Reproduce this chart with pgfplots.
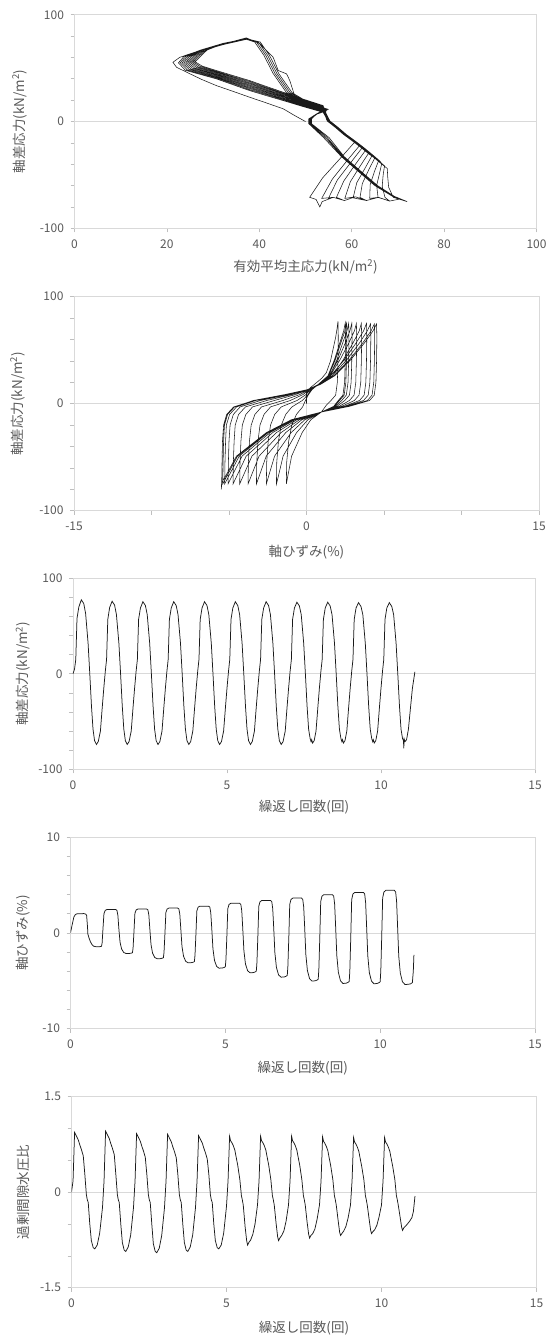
\documentclass[border=0pt]{standalone}
\usepackage{fontspec}
\setmainfont{Noto Sans CJK JP}
\usepackage{pgfplots}
\pgfplotsset{compat=1.18}
\definecolor{txt}{HTML}{595959}
\definecolor{bord}{HTML}{D9D9D9}
\definecolor{tickc}{HTML}{BFBFBF}
\definecolor{dat}{HTML}{1A1A1A}
\pgfplotsset{
  base/.style={
    scale only axis,
    anchor=south west,
    axis line style={draw=bord, line width=0.8pt},
    tick align=outside,
    xtick pos=left, ytick pos=left,
    major tick length=4pt, minor tick length=4pt,
    major tick style={draw=tickc, line width=0.7pt},
    minor tick style={draw=tickc, line width=0.7pt},
    tick label style={font=\fontsize{12}{14}\selectfont, text=txt},
    xticklabel style={yshift=-4pt},
    yticklabel style={xshift=-3pt},
    label style={font=\fontsize{13.5}{16}\selectfont, text=txt},
    ymajorgrids, major grid style={draw=bord, line width=0.8pt},
    cycle list={{dat, line width=0.7pt, mark=none}},
  },
  qaxis/.style={ymin=-100, ymax=100, ytick={-100,0,100}, yticklabels={-100,0,100},
    minor ytick={-80,-60,-40,-20,20,40,60,80}},
  naxis/.style={xmin=0, xmax=15, xtick={0,5,10,15}, xticklabels={0,5,10,15},
    xlabel={繰返し回数(回)}},
}
\begin{document}
\begin{tikzpicture}
\path[use as bounding box] (0,0) rectangle (558pt,-1340pt);

% ---------- Panel 1 : q vs p'
\begin{axis}[base, qaxis, at={(74.5pt,-228.3pt)}, width=462pt, height=213.5pt,
  xmin=0, xmax=100, xtick={0,20,40,60,80,100}, xticklabels={0,20,40,60,80,100},
  xlabel={有効平均主応力(kN/m\textsuperscript{2})},
  ylabel={軸差応力(kN/m\textsuperscript{2})},
  xlabel style={at={(axis description cs:0.5,-0.181)}, anchor=center},
  ylabel style={at={(axis description cs:-0.119,0.5)}, anchor=center}]
\addplot[dat, line width=0.55pt, mark=none] coordinates {
(50,0) (47.5,6) (45.2,11.9) (41.5,17.5) (37.9,22.8) (34.3,28.3) (30.7,33.7) (27.5,39.5) (25,44.7) (22.1,50.8) (21.3,55.5) (22.8,60.2) (27.1,66.5) (32.2,72.7) (37.2,78.4) (40.1,73) (43,60.2) (44.1,47.8) (45.9,44.7) (46.6,38.4) (48.1,18) (51.5,12.5) (54.5,10) (52.5,7) (51,2) (51,-3) (53.5,-12) (55.5,-20) (58.1,-33) (61.8,-47) (65.3,-60) (69,-70) (72,-75) (70.5,-73) (69,-71)
(68.0,-61.5) (67.8,-52.1) (67.7,-44) (65.7,-37) (63.8,-30) (62.1,-24) (60.6,-19) (58.4,-12) (56.6,-5.3) (54.9,0.5) (53.8,8.7) (49.5,14) (45.2,19.6) (41.5,24.3) (37.9,29) (34.3,34.5) (30.7,40) (24,48) (22.5,55) (23.7,61) (27.3,67) (32.2,72.5) (37.2,77.2) (39.4,74.5) (41.4,62) (43.4,45) (46.3,27) (50.6,16) (54.5,11.5) (52.5,7.5) (50.9,2.5) (50.9,-2) (54.3,-15) (58.0,-33) (61.7,-47) (65.2,-60) (68.9,-70) (72,-75) (70.5,-72.5) (68.2,-74.5) (67.2,-71)
(66.6,-60.7) (66.8,-50.4) (67.1,-41.5) (65.9,-37) (64.0,-30) (62.3,-24) (60.8,-19) (58.6,-12) (56.8,-5.3) (55.1,0.5) (53.8,9.4) (49.5,14.8) (45.2,20.5) (41.5,25.3) (37.9,30) (34.3,35.5) (30.7,40.9) (24.4,48.4) (22.9,55.1) (24.1,61) (27.3,67) (32.2,72.9) (37.2,77.4) (39.8,74.5) (41.8,62) (43.8,45) (46.7,27) (51.0,16) (54.7,11.5) (52.5,7.5) (51.1,2.5) (51.1,-2) (54.7,-15) (58.2,-33) (61.9,-47) (65.4,-60) (69.1,-70) (72,-75) (70.5,-72.5) (68.2,-74.5) (65.7,-71)
(65.4,-59.9) (66.0,-48.9) (66.5,-39.4) (66.1,-37) (64.2,-30) (62.5,-24) (61.0,-19) (58.8,-12) (57.0,-5.3) (55.3,0.5) (53.8,10.1) (49.5,15.6) (45.2,21.3) (41.5,26.2) (37.9,31.1) (34.3,36.4) (30.7,41.7) (24.8,48.9) (23.3,55.2) (24.5,61) (27.3,67) (32.2,73.3) (37.2,77.6) (40.2,74.5) (42.2,62) (44.2,45) (47.1,27) (51.4,16) (54.9,11.5) (52.5,7.5) (51.3,2.5) (51.3,-2) (55.1,-15) (58.4,-33) (62.1,-47) (65.6,-60) (69.2,-70) (72,-75) (70.5,-72.5) (68.2,-74.5) (65.8,-71) (63.9,-72)
(64.0,-59.1) (64.9,-47.1) (65.8,-36.9) (63.6,-30) (61.9,-24) (60.4,-19) (58.2,-12) (56.4,-5.3) (54.7,0.5) (53.8,10.8) (49.5,16.3) (45.2,22.2) (41.5,27.2) (37.9,32.1) (34.3,37.4) (30.7,42.6) (25.2,49.3) (23.7,55.3) (24.9,61) (27.3,67) (32.2,72.1) (37.2,77.0) (39.0,74.5) (41.0,62) (43.0,45) (45.9,27) (50.2,16) (54.3,11.5) (52.5,7.5) (50.7,2.5) (50.7,-2) (53.9,-15) (57.8,-33) (61.5,-47) (65.0,-60) (68.8,-70) (72,-75) (70.5,-72.5) (68.2,-74.5) (65.8,-71) (63.2,-74) (61.8,-71)
(62.3,-58.1) (63.7,-45.1) (65.0,-34) (63.8,-30) (62.1,-24) (60.6,-19) (58.4,-12) (56.6,-5.3) (54.9,0.5) (53.8,11.5) (49.5,17.1) (45.2,23.1) (41.5,28.1) (37.9,33.2) (34.3,38.3) (30.7,43.5) (25.6,49.8) (24.1,55.4) (25.3,61) (27.3,67) (32.2,72.5) (37.2,77.2) (39.4,74.5) (41.4,62) (43.4,45) (46.3,27) (50.6,16) (54.5,11.5) (52.5,7.5) (50.9,2.5) (50.9,-2) (54.3,-15) (58.0,-33) (61.7,-47) (65.2,-60) (68.9,-70) (72,-75) (70.5,-72.5) (68.2,-74.5) (65.8,-71) (63.2,-74) (60.3,-71.5)
(61.1,-57.3) (62.9,-43.6) (64.4,-31.9) (62.3,-24) (60.8,-19) (58.6,-12) (56.8,-5.3) (55.1,0.5) (53.8,12.2) (49.5,17.9) (45.2,23.9) (41.5,29.1) (37.9,34.2) (34.3,39.3) (30.7,44.3) (26.0,50.2) (24.5,55.6) (25.7,61) (27.5,67) (32.2,72.9) (37.2,77.4) (39.8,74.5) (41.8,62) (43.8,45) (46.7,27) (51.0,16) (54.7,11.5) (52.5,7.5) (51.1,2.5) (51.1,-2) (54.7,-15) (58.2,-33) (61.9,-47) (65.4,-60) (69.1,-70) (72,-75) (70.5,-72.5) (68.2,-74.5) (65.8,-71) (63.2,-74) (60.8,-70.5) (58.5,-72)
(59.7,-56.4) (61.8,-41.9) (63.7,-29.4) (62.5,-24) (61.0,-19) (58.8,-12) (57.0,-5.3) (55.3,0.5) (53.8,12.9) (49.5,18.7) (45.2,24.8) (41.5,30.0) (37.9,35.3) (34.3,40.2) (30.7,45.2) (26.4,50.7) (24.9,55.7) (26.1,61) (27.8,67) (32.2,73.3) (37.2,77.6) (40.2,74.5) (42.2,62) (44.2,45) (47.1,27) (51.4,16) (54.9,11.5) (52.5,7.5) (51.3,2.5) (51.3,-2) (55.1,-15) (58.4,-33) (62.1,-47) (65.6,-60) (69.2,-70) (72,-75) (70.5,-72.5) (68.2,-74.5) (65.8,-71) (63.2,-74) (60.8,-70.5) (58.4,-74) (56.7,-71)
(58.3,-55.6) (60.8,-40.1) (63.0,-26.9) (61.9,-24) (60.4,-19) (58.2,-12) (56.4,-5.3) (54.7,0.5) (53.8,13.6) (49.5,19.4) (45.2,25.7) (41.5,31.0) (37.9,36.3) (34.3,41.2) (30.7,46.1) (26.8,51.1) (25.3,55.8) (26.5,61) (28.1,67) (32.2,72.1) (37.2,77.0) (39.0,74.5) (41.0,62) (43.0,45) (45.9,27) (50.2,16) (54.3,11.5) (52.5,7.5) (50.7,2.5) (50.7,-2) (53.9,-15) (57.8,-33) (61.5,-47) (65.0,-60) (68.8,-70) (72,-75) (70.5,-72.5) (68.2,-74.5) (65.8,-71) (63.2,-74) (60.8,-70.5) (58.4,-74) (56,-71) (54.9,-72.5)
(56.9,-54.7) (59.8,-38.4) (62.3,-24.4) (60.6,-19) (58.4,-12) (56.6,-5.3) (54.9,0.5) (53.8,14.3) (49.5,20.2) (45.2,26.5) (41.5,31.9) (37.9,37.4) (34.3,42.1) (30.7,46.9) (27.2,51.6) (25.7,55.9) (26.9,61) (28.4,67) (32.2,72.5) (37.2,77.2) (39.4,74.5) (41.4,62) (43.4,45) (46.3,27) (50.6,16) (54.5,11.5) (52.5,7.5) (50.9,2.5) (50.9,-2) (54.3,-15) (58.0,-33) (61.7,-47) (65.2,-60) (68.9,-70) (72,-75) (70.5,-72.5) (68.2,-74.5) (65.8,-71) (63.2,-74) (60.8,-70.5) (58.4,-74) (56,-71) (53.5,-72)
(55.8,-54.0) (58.9,-37.1) (61.7,-22.5) (60.8,-19) (58.6,-12) (56.8,-5.3) (55.1,0.5) (53.8,15) (49.5,21) (45.2,27.4) (41.5,32.9) (37.9,38.4) (34.3,43.1) (30.7,47.8) (27.6,52) (26.1,56) (27.3,61) (28.7,67) (32.2,72.9) (37.2,77.4) (39.8,74.5) (41.8,62) (43.8,45) (46.7,27) (51.0,16) (54.7,11.5) (52.5,7.5) (51.1,2.5) (51.1,-2) (54.7,-15) (58.2,-33) (61.9,-47) (65.4,-60) (69.1,-70) (72,-75) (70.5,-72.5) (68.2,-74.5) (65.8,-71) (63.2,-74) (60.8,-70.5) (58.4,-74) (56,-71) (53.6,-75) (53.1,-80) (52.3,-73) (50.9,-71)
(53.7,-52.8) (57.5,-34.6) (60.7,-19) (58.5,-12) (56.7,-5.3) (55.2,0) (54.5,2)
};
\end{axis}

% ---------- Panel 2 : q vs axial strain
\begin{axis}[base, qaxis, at={(74pt,-510.7pt)}, width=465pt, height=214pt,
  xmin=-15, xmax=15, xtick={-15,0,15}, xticklabels={-15,0,15},
  minor xtick={-10,-5,5,10}, xmajorgrids,
  xlabel={軸ひずみ(\%)},
  ylabel={軸差応力(kN/m\textsuperscript{2})},
  xlabel style={at={(axis description cs:0.5,-0.193)}, anchor=center},
  ylabel style={at={(axis description cs:-0.121,0.5)}, anchor=center}]
\addplot[dat, line width=0.55pt, mark=none] coordinates {
(0,0) (0,10) (0.25,15) (0.64,19.6) (1.0,24) (1.28,29) (1.55,40) (1.71,50.7) (1.88,62) (1.97,70) (2.03,77)
(2.05,62) (2.03,40) (1.99,20) (1.88,8) (1.58,3) (1.3,-1) (0.96,-7.8) (0.28,-15) (-0.28,-27) (-0.96,-49) (-1.21,-68) (-1.30,-75)
(-1.28,-55) (-1.15,-35) (-0.95,-20) (-0.65,-10) (-0.25,-3) (-0.07,3) (0.13,8.5) (0.35,13) (0.75,18) (1.38,26) (1.8,41) (2.15,57) (2.4,68) (2.5,75.5)
(2.52,62) (2.5,40) (2.46,20) (2.35,8) (2.05,3) (1.75,-2.5) (0.96,-7.8) (0.09,-15) (-0.64,-27) (-1.51,-49) (-1.82,-68) (-1.94,-75)
(-1.92,-55) (-1.81,-35) (-1.63,-20) (-1.34,-10) (-0.94,-3) (-0.27,3) (0.09,8.5) (0.30,13) (0.77,18) (1.42,26) (1.86,41) (2.22,57) (2.48,68) (2.58,75)
(2.6,62) (2.58,40) (2.54,20) (2.43,8) (2.13,3) (1.79,-2.5) (0.96,-7.8) (-0.11,-15) (-0.99,-27) (-2.06,-49) (-2.45,-68) (-2.59,-75)
(-2.57,-55) (-2.47,-35) (-2.32,-20) (-2.05,-10) (-1.63,-3) (-0.61,3) (-0.04,8.5) (0.24,13) (0.82,18) (1.50,26) (1.96,41) (2.34,57) (2.61,68) (2.72,75)
(2.74,62) (2.72,40) (2.68,20) (2.57,8) (2.27,3) (1.86,-2.5) (0.96,-7.8) (-0.30,-15) (-1.34,-27) (-2.60,-49) (-3.06,-68) (-3.23,-75)
(-3.21,-55) (-3.13,-35) (-3.0,-20) (-2.74,-10) (-2.32,-3) (-1.05,3) (-0.23,8.5) (0.19,13) (0.79,18) (1.46,26) (2.04,41) (2.51,57) (2.80,68) (2.92,75)
(2.94,62) (2.92,40) (2.88,20) (2.77,8) (2.47,3) (1.96,-2.5) (0.96,-7.8) (-0.46,-15) (-1.64,-27) (-3.06,-49) (-3.58,-68) (-3.77,-75)
(-3.75,-55) (-3.68,-35) (-3.57,-20) (-3.33,-10) (-2.90,-3) (-1.52,3) (-0.44,8.5) (0.14,13) (0.81,18) (1.51,26) (2.16,41) (2.74,57) (3.09,68) (3.22,75)
(3.24,62) (3.22,40) (3.18,20) (3.07,8) (2.77,3) (2.11,-2.5) (0.96,-7.8) (-0.62,-15) (-1.94,-27) (-3.52,-49) (-4.10,-68) (-4.31,-75)
(-4.29,-55) (-4.23,-35) (-4.14,-20) (-3.91,-10) (-3.48,-3) (-2.07,3) (-0.72,8.5) (0.10,13) (0.89,18) (1.66,26) (2.37,41) (3.01,57) (3.40,68) (3.54,75)
(3.56,62) (3.54,40) (3.50,20) (3.39,8) (3.09,3) (2.27,-2.5) (0.96,-7.8) (-0.75,-15) (-2.18,-27) (-3.89,-49) (-4.51,-68) (-4.74,-75)
(-4.72,-55) (-4.67,-35) (-4.60,-20) (-4.38,-10) (-3.94,-3) (-2.56,3) (-0.96,8.5) (0.06,13) (0.77,18) (1.55,26) (2.44,41) (3.21,57) (3.68,68) (3.87,75)
(3.89,62) (3.87,40) (3.83,20) (3.72,8) (3.42,3) (2.44,-2.5) (0.96,-7.8) (-0.85,-15) (-2.35,-27) (-4.16,-49) (-4.82,-68) (-5.06,-75)
(-5.04,-55) (-5.0,-35) (-4.93,-20) (-4.72,-10) (-4.28,-3) (-2.97,3) (-1.17,8.5) (0.04,13) (0.83,18) (1.65,26) (2.60,41) (3.43,57) (3.92,68) (4.13,74.5)
(4.15,62) (4.13,40) (4.09,20) (3.98,8) (3.68,3) (2.57,-2.5) (0.96,-7.8) (-0.91,-15) (-2.47,-27) (-4.34,-49) (-5.03,-68) (-5.28,-75)
(-5.26,-55) (-5.22,-35) (-5.17,-20) (-4.96,-10) (-4.51,-3) (-3.27,3) (-1.33,8.5) (0.02,13) (0.88,18) (1.75,26) (2.76,41) (3.64,57) (4.16,68) (4.38,74.5)
(4.40,62) (4.38,40) (4.34,20) (4.23,8) (3.93,3) (2.69,-2.5) (0.96,-7.8) (-0.95,-15) (-2.54,-27) (-4.45,-49) (-5.15,-68) (-5.40,-75)
(-5.38,-55) (-5.35,-35) (-5.29,-20) (-5.09,-10) (-4.64,-3) (-3.43,3) (-1.41,8.5) (0.01,13) (0.90,18) (1.81,26) (2.85,41) (3.75,57) (4.29,68) (4.52,74.5)
(4.54,62) (4.52,40) (4.48,20) (4.37,8) (4.07,3) (2.76,-2.5) (0.96,-7.8) (-0.98,-15) (-2.59,-27) (-4.52,-49) (-5.23,-68) (-5.45,-73) (-5.5,-80)
(-5.47,-72) (-5.45,-55) (-5.42,-35) (-5.35,-20) (-5.15,-10) (-4.7,-3) (-3.5,2.5) (-2.5,5)
};
\end{axis}

% ---------- Panel 3 : q vs N
\begin{axis}[base, qaxis, naxis, at={(73pt,-769.3pt)}, width=462pt, height=191pt,
  ylabel={軸差応力(kN/m\textsuperscript{2})},
  xlabel style={at={(axis description cs:0.5,-0.197)}, anchor=center},
  ylabel style={at={(axis description cs:-0.108,0.5)}, anchor=center}]
\addplot[dat, line width=0.75pt, mark=none] coordinates {
(0,0) (0.05,5) (0.09,15) (0.13,58) (0.19,70) (0.27,77.5) (0.35,73.5) (0.41,63) (0.49,32) (0.545,0) (0.6,-34) (0.65,-58) (0.7,-70) (0.76,-74) (0.82,-71) (0.89,-60) (0.95,-35)
(1,-15) (1.05,3) (1.09,15) (1.13,57) (1.19,69.5) (1.27,76) (1.35,72) (1.41,62) (1.49,32) (1.545,0) (1.6,-34) (1.65,-58) (1.7,-70) (1.76,-74) (1.82,-71) (1.89,-60) (1.95,-35)
(2,-15) (2.05,3) (2.09,15) (2.13,57) (2.19,69) (2.27,75.5) (2.35,71.5) (2.41,62) (2.49,32) (2.545,0) (2.6,-34) (2.65,-58) (2.7,-70) (2.76,-74) (2.82,-71) (2.89,-60) (2.95,-35)
(3,-15) (3.05,3) (3.09,15) (3.13,57) (3.19,69) (3.27,75.5) (3.35,71.5) (3.41,62) (3.49,32) (3.545,0) (3.6,-34) (3.65,-58) (3.7,-70) (3.76,-74) (3.82,-71) (3.89,-60) (3.95,-35)
(4,-15) (4.05,3) (4.09,15) (4.13,57) (4.19,69) (4.27,75.5) (4.35,71.5) (4.41,62) (4.49,32) (4.545,0) (4.6,-34) (4.65,-58) (4.7,-70) (4.76,-74) (4.82,-71) (4.89,-60) (4.95,-35)
(5,-15) (5.05,3) (5.09,15) (5.13,57) (5.19,69) (5.27,75.5) (5.35,71.5) (5.41,62) (5.49,32) (5.545,0) (5.6,-34) (5.65,-58) (5.7,-70) (5.76,-74) (5.82,-71) (5.89,-60) (5.95,-35)
(6,-15) (6.05,3) (6.09,15) (6.13,57) (6.19,69) (6.27,75.5) (6.35,71.5) (6.41,62) (6.49,32) (6.545,0) (6.6,-34) (6.65,-58) (6.7,-70) (6.76,-74) (6.82,-71) (6.89,-60) (6.95,-35)
(7,-15) (7.05,3) (7.09,15) (7.13,57) (7.19,69) (7.27,75) (7.35,71) (7.41,62) (7.49,32) (7.545,0) (7.6,-34) (7.65,-58) (7.7,-68) (7.73,-71) (7.75,-69) (7.78,-72.5) (7.83,-70) (7.89,-60) (7.95,-35)
(8,-15) (8.05,3) (8.09,15) (8.13,57) (8.19,69) (8.27,75) (8.35,71) (8.41,62) (8.49,32) (8.545,0) (8.6,-34) (8.65,-58) (8.7,-68) (8.73,-71) (8.75,-69) (8.78,-72.5) (8.83,-70) (8.89,-60) (8.95,-35)
(9,-15) (9.05,3) (9.09,15) (9.13,57) (9.19,69) (9.27,74.5) (9.35,70.5) (9.41,62) (9.49,32) (9.545,0) (9.6,-34) (9.65,-58) (9.7,-68) (9.73,-71) (9.75,-69) (9.78,-72.5) (9.83,-70) (9.89,-60) (9.95,-35)
(10,-15) (10.05,3) (10.09,15) (10.13,57) (10.19,69) (10.27,74.5) (10.35,70.5) (10.41,62) (10.49,32) (10.545,0) (10.6,-34) (10.65,-58) (10.7,-68) (10.73,-70) (10.74,-78) (10.75,-68) (10.78,-71) (10.83,-69) (10.89,-58) (10.95,-38) (11.02,-15) (11.1,2)
};
\end{axis}

% ---------- Panel 4 : axial strain vs N
\begin{axis}[base, naxis, at={(70.5pt,-1028.5pt)}, width=464.5pt, height=191.2pt,
  ymin=-10, ymax=10, ytick={-10,0,10}, yticklabels={-10,0,10},
  minor ytick={-8,-6,-4,-2,2,4,6,8},
  ylabel={軸ひずみ(\%)},
  xlabel style={at={(axis description cs:0.5,-0.207)}, anchor=center},
  ylabel style={at={(axis description cs:-0.102,0.5)}, anchor=center}]
\addplot[dat, line width=0.75pt, mark=none] coordinates {
(0,0) (0.05,0.8) (0.11,1.67) (0.16,1.93) (0.215,2.0) (0.43,2.02) (0.49,1.97) (0.52,1.85) (0.55,0.6) (0.56,-0.1) (0.6,-0.55) (0.645,-0.94) (0.7,-1.25) (0.75,-1.39) (0.85,-1.46) (0.946,-1.44)
(1.0,-1.40) (1.02,-1.10) (1.05,0.50) (1.08,2.01) (1.12,2.35) (1.18,2.45) (1.46,2.45) (1.5,2.35) (1.53,1.84) (1.56,0.49) (1.6,-0.97) (1.65,-1.68) (1.72,-2.05) (1.8,-2.16) (1.9,-2.15) (1.96,-2.12)
(2.0,-2.07) (2.02,-1.62) (2.05,0.17) (2.08,2.05) (2.12,2.40) (2.18,2.5) (2.46,2.5) (2.5,2.40) (2.53,1.88) (2.56,0.5) (2.6,-1.22) (2.65,-2.11) (2.72,-2.57) (2.8,-2.7) (2.9,-2.69) (2.96,-2.65)
(3.0,-2.59) (3.02,-2.03) (3.05,-0.05) (3.08,2.13) (3.12,2.50) (3.18,2.6) (3.46,2.6) (3.5,2.50) (3.53,1.95) (3.56,0.52) (3.6,-1.41) (3.65,-2.44) (3.72,-2.97) (3.8,-3.13) (3.9,-3.11) (3.96,-3.07)
(4.0,-3.0) (4.02,-2.35) (4.05,-0.17) (4.08,2.30) (4.12,2.69) (4.18,2.8) (4.46,2.8) (4.5,2.69) (4.53,2.1) (4.56,0.56) (4.6,-1.66) (4.65,-2.88) (4.72,-3.51) (4.8,-3.69) (4.9,-3.67) (4.96,-3.62)
(5.0,-3.54) (5.02,-2.77) (5.05,-0.30) (5.08,2.54) (5.12,2.98) (5.18,3.1) (5.46,3.1) (5.5,2.98) (5.53,2.33) (5.56,0.62) (5.6,-1.88) (5.65,-3.25) (5.72,-3.96) (5.8,-4.17) (5.9,-4.15) (5.96,-4.09)
(6.0,-4.0) (6.02,-3.13) (6.05,-0.39) (6.08,2.79) (6.12,3.26) (6.18,3.4) (6.46,3.4) (6.5,3.26) (6.53,2.55) (6.56,0.68) (6.6,-2.08) (6.65,-3.61) (6.72,-4.40) (6.8,-4.63) (6.9,-4.61) (6.96,-4.54)
(7.0,-4.44) (7.02,-3.47) (7.05,-0.49) (7.08,2.99) (7.12,3.50) (7.18,3.65) (7.46,3.65) (7.5,3.50) (7.53,2.74) (7.56,0.73) (7.6,-2.27) (7.65,-3.93) (7.72,-4.79) (7.8,-5.04) (7.9,-5.01) (7.96,-4.94)
(8.0,-4.84) (8.02,-3.78) (8.05,-0.52) (8.08,3.28) (8.12,3.84) (8.18,4.0) (8.46,4.0) (8.5,3.84) (8.53,3.0) (8.56,0.8) (8.6,-2.38) (8.65,-4.13) (8.72,-5.03) (8.8,-5.29) (8.9,-5.26) (8.96,-5.18)
(9.0,-5.08) (9.02,-3.97) (9.05,-0.53) (9.08,3.48) (9.12,4.07) (9.18,4.24) (9.46,4.24) (9.5,4.07) (9.53,3.18) (9.56,0.85) (9.6,-2.39) (9.65,-4.15) (9.72,-5.05) (9.8,-5.32) (9.9,-5.29) (9.96,-5.21)
(10.0,-5.11) (10.02,-3.99) (10.05,-0.44) (10.08,3.65) (10.12,4.27) (10.18,4.45) (10.46,4.45) (10.5,4.27) (10.53,3.34) (10.56,0.89) (10.6,-2.43) (10.65,-4.2) (10.72,-5.12) (10.8,-5.39) (10.9,-5.38) (10.98,-5.33) (11.04,-5.2) (11.07,-4.0) (11.09,-2.3)
};
\end{axis}

% ---------- Panel 5 : excess pore pressure ratio vs N
\begin{axis}[base, naxis, at={(71.5pt,-1287.7pt)}, width=465pt, height=191pt,
  ymin=-1.5, ymax=1.5, ytick={-1.5,0,1.5}, yticklabels={-1.5,0,1.5},
  minor ytick={-1,-0.5,0.5,1},
  ylabel={過剰間隙水圧比},
  xlabel style={at={(axis description cs:0.5,-0.211)}, anchor=center},
  ylabel style={at={(axis description cs:-0.104,0.5)}, anchor=center}]
\addplot[dat, line width=0.75pt, mark=none] coordinates {
(0,0) (0.05,0.18) (0.1,0.94) (0.13,0.91) (0.17,0.87) (0.22,0.82) (0.27,0.74) (0.32,0.67) (0.38,0.57) (0.43,0.28) (0.48,-0.04) (0.51,-0.12) (0.54,-0.16) (0.59,-0.5) (0.64,-0.76) (0.7,-0.87) (0.75,-0.89) (0.83,-0.83) (0.91,-0.64)
(1,-0.24) (1.05,0.18) (1.1,0.96) (1.13,0.93) (1.17,0.89) (1.22,0.84) (1.27,0.76) (1.32,0.69) (1.38,0.59) (1.43,0.28) (1.48,-0.04) (1.51,-0.12) (1.54,-0.16) (1.59,-0.5) (1.64,-0.79) (1.7,-0.91) (1.75,-0.93) (1.83,-0.86) (1.91,-0.67)
(2,-0.24) (2.05,0.18) (2.1,0.92) (2.13,0.89) (2.17,0.85) (2.22,0.80) (2.27,0.72) (2.32,0.65) (2.38,0.55) (2.43,0.28) (2.48,-0.04) (2.51,-0.12) (2.54,-0.16) (2.59,-0.5) (2.64,-0.81) (2.7,-0.93) (2.75,-0.95) (2.83,-0.88) (2.91,-0.68)
(3,-0.24) (3.05,0.18) (3.1,0.91) (3.13,0.88) (3.17,0.84) (3.22,0.79) (3.27,0.71) (3.32,0.64) (3.38,0.54) (3.43,0.28) (3.48,-0.04) (3.51,-0.12) (3.54,-0.16) (3.59,-0.5) (3.64,-0.79) (3.7,-0.91) (3.75,-0.93) (3.83,-0.86) (3.91,-0.67)
(4,-0.24) (4.05,0.18) (4.1,0.89) (4.13,0.86) (4.17,0.82) (4.22,0.77) (4.27,0.69) (4.32,0.62) (4.38,0.52) (4.43,0.28) (4.48,-0.04) (4.51,-0.12) (4.54,-0.16) (4.59,-0.5) (4.64,-0.76) (4.7,-0.87) (4.75,-0.89) (4.83,-0.83) (4.91,-0.64)
(5,-0.22) (5.05,0.18) (5.1,0.88) (5.13,0.81) (5.17,0.78) (5.22,0.73) (5.27,0.66) (5.3,0.58) (5.36,0.43) (5.43,0.2) (5.48,-0.05) (5.51,-0.12) (5.54,-0.2) (5.6,-0.54) (5.65,-0.76) (5.68,-0.83) (5.72,-0.79) (5.78,-0.75) (5.85,-0.66) (5.92,-0.5)
(6,-0.2) (6.05,0.18) (6.1,0.88) (6.13,0.81) (6.17,0.78) (6.22,0.73) (6.27,0.66) (6.3,0.58) (6.36,0.43) (6.43,0.2) (6.48,-0.05) (6.51,-0.12) (6.54,-0.2) (6.6,-0.49) (6.65,-0.7) (6.68,-0.76) (6.72,-0.72) (6.78,-0.68) (6.85,-0.61) (6.92,-0.46)
(7,-0.2) (7.05,0.18) (7.1,0.88) (7.13,0.81) (7.17,0.78) (7.22,0.73) (7.27,0.66) (7.3,0.58) (7.36,0.43) (7.43,0.2) (7.48,-0.05) (7.51,-0.12) (7.54,-0.2) (7.6,-0.47) (7.65,-0.66) (7.68,-0.72) (7.72,-0.68) (7.78,-0.65) (7.85,-0.58) (7.92,-0.43)
(8,-0.2) (8.05,0.18) (8.1,0.87) (8.13,0.80) (8.17,0.77) (8.22,0.72) (8.27,0.65) (8.3,0.57) (8.36,0.42) (8.43,0.2) (8.48,-0.05) (8.51,-0.12) (8.54,-0.2) (8.6,-0.44) (8.65,-0.63) (8.68,-0.68) (8.72,-0.65) (8.78,-0.61) (8.85,-0.54) (8.92,-0.41)
(9,-0.2) (9.05,0.18) (9.1,0.86) (9.13,0.79) (9.17,0.76) (9.22,0.71) (9.27,0.64) (9.3,0.56) (9.36,0.41) (9.43,0.2) (9.48,-0.05) (9.51,-0.12) (9.54,-0.2) (9.6,-0.42) (9.65,-0.6) (9.68,-0.65) (9.72,-0.62) (9.78,-0.59) (9.85,-0.52) (9.92,-0.39)
(10,-0.2) (10.05,0.18) (10.1,0.86) (10.13,0.79) (10.17,0.76) (10.22,0.71) (10.27,0.64) (10.3,0.56) (10.36,0.41) (10.43,0.2) (10.48,-0.05) (10.51,-0.12) (10.54,-0.2) (10.6,-0.39) (10.65,-0.55) (10.68,-0.6) (10.72,-0.56) (10.8,-0.52) (10.9,-0.46) (10.98,-0.4) (11.03,-0.3) (11.08,-0.06)
};
\end{axis}
\end{tikzpicture}
\end{document}
